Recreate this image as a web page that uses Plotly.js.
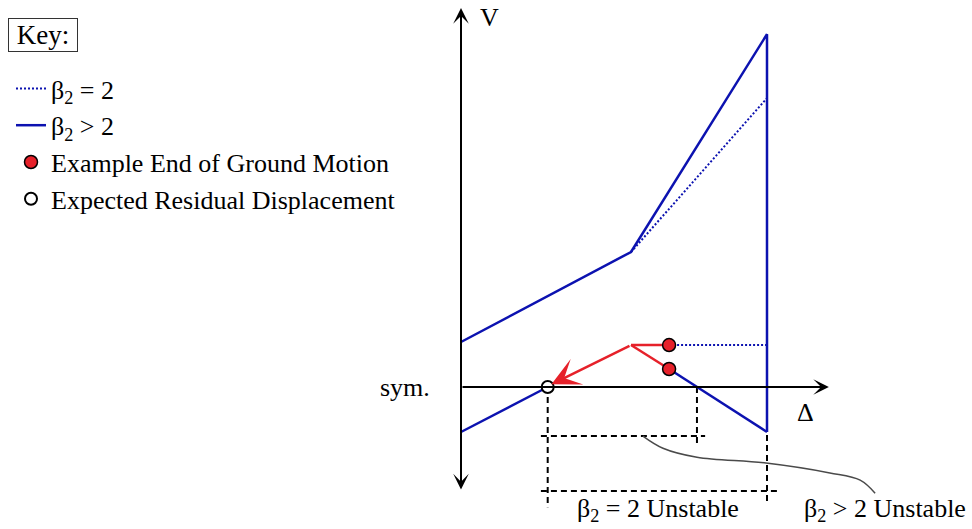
<!DOCTYPE html>
<html>
<head>
<meta charset="utf-8">
<script src="https://cdn.plot.ly/plotly-3.0.1.min.js"></script>
<style>html,body{margin:0;padding:0;background:#fff;}</style>
</head>
<body>
<div id="chart" style="width:972px;height:529px;"></div>
<script>
// Hysteresis schematic in (Δ, V) units, origin at the axis intersection.

// β2 > 2 backbone: initial branch, hardening branch, drop at Δmax
const backboneDelta = [0, 5, 9, 9];
const backboneV = [1, 3, 7.84, -1];
// β2 > 2 unloading branches
const leftBranchDelta = [0, 2.55];
const leftBranchV = [-1, 0];
const rightBranchDelta = [6.12, 9];
const rightBranchV = [0.4, -1];

// β2 = 2 hardening branch and plateau after end of motion
const equalBranchDelta = [5, 9];
const equalBranchV = [3, 6.42];
const plateauDelta = [6.12, 9];
const plateauV = [0.933, 0.933];

// Path from reversal peak to end of ground motion
const peakDelta = 5;
const peakV = 0.933;
const endDelta = [6.12, 6.12];
const endV = [0.933, 0.4];

// Expected residual displacement
const residualDelta = [2.55];
const residualV = [0];
const arrowTipDelta = 2.66;
const arrowTipV = 0.06;

// Unstable-range guides
const guideVertDelta = [2.55, 6.94, 9];
const guideVertTop = [0, 0, 0.933];
const guideVertBottom = [-2.67, -1.31, -2.62];
const guideHorzV = [-1.09, -2.31];
const guideHorzFrom = [2.35, 2.35];
const guideHorzTo = [7.18, 9.35];

// Leader from the β2 > 2 range to its label
const leaderDelta = [5.35, 5.94, 6.94, 8.97, 10.85, 11.74, 12.18];
const leaderV = [-1.09, -1.36, -1.56, -1.69, -1.91, -2.07, -2.36];

// Axes extent
const axisTopV = 8.42;
const axisBottomV = -2.31;
const axisRightDelta = 10.82;

const legendNames = ['β<sub>2</sub> = 2', 'β<sub>2</sub> > 2',
  'Example End of Ground Motion', 'Expected Residual Displacement'];

const BLUE = '#0c12b0';
const RED = '#e6212a';
const FONT = '"Liberation Serif", "Times New Roman", serif';

function joinSegments(list) {
  const out = [];
  list.forEach((seg, i) => { if (i) out.push(null); out.push(...seg); });
  return out;
}

const guideX = [], guideY = [];
guideVertDelta.forEach((d, i) => {
  if (guideX.length) { guideX.push(null); guideY.push(null); }
  guideX.push(d, d); guideY.push(guideVertTop[i], guideVertBottom[i]);
});
guideHorzV.forEach((v, i) => {
  guideX.push(null, guideHorzFrom[i], guideHorzTo[i]);
  guideY.push(null, v, v);
});

const traces = [
  { x: guideX, y: guideY, mode: 'lines', showlegend: false,
    line: { color: '#000', width: 2, dash: '6px,4px' }, hoverinfo: 'skip' },
  { x: leaderDelta, y: leaderV, mode: 'lines', showlegend: false,
    line: { color: '#4a4a4a', width: 1.5, shape: 'spline', smoothing: 1 } },
  { x: joinSegments([equalBranchDelta, plateauDelta]),
    y: joinSegments([equalBranchV, plateauV]),
    mode: 'lines', name: legendNames[0], legendgroup: 'a',
    line: { color: BLUE, width: 2, dash: '2px,2px' } },
  { x: joinSegments([backboneDelta, leftBranchDelta, rightBranchDelta]),
    y: joinSegments([backboneV, leftBranchV, rightBranchV]),
    mode: 'lines', name: legendNames[1], legendgroup: 'b',
    line: { color: BLUE, width: 2.5 } },
  { x: [peakDelta, endDelta[0], null, peakDelta, endDelta[1]],
    y: [peakV, endV[0], null, peakV, endV[1]],
    mode: 'lines', showlegend: false, line: { color: RED, width: 2.5 } },
  { x: endDelta, y: endV, mode: 'markers', name: legendNames[2], legendgroup: 'c',
    marker: { color: RED, size: 13, line: { color: '#000', width: 1.5 } } },
  { x: residualDelta, y: residualV, mode: 'markers', name: legendNames[3], legendgroup: 'd',
    marker: { color: '#fff', size: 12, line: { color: '#000', width: 2 } } }
];

const txt = (x, y, text, xanchor, extra) => Object.assign({
  x, y, text, xref: 'x', yref: 'y', showarrow: false, xanchor: xanchor || 'center',
  yanchor: 'middle', font: { family: FONT, size: 26, color: '#000' }
}, extra || {});

const annotations = [
  // vertical axis (double-headed)
  { x: 0, y: axisTopV, ax: 0, ay: axisBottomV, xref: 'x', yref: 'y', axref: 'x', ayref: 'y',
    text: '', showarrow: true, arrowside: 'end+start', arrowhead: 3, startarrowhead: 3,
    arrowsize: 1.3, startarrowsize: 1.3, arrowwidth: 2, arrowcolor: '#000', standoff: 0, startstandoff: 0 },
  // horizontal axis
  { x: axisRightDelta, y: 0, ax: 0, ay: 0, xref: 'x', yref: 'y', axref: 'x', ayref: 'y',
    text: '', showarrow: true, arrowhead: 3, arrowsize: 1.3, arrowwidth: 2, arrowcolor: '#000', standoff: 0 },
  // return toward residual displacement
  { x: arrowTipDelta, y: arrowTipV, ax: peakDelta, ay: peakV, xref: 'x', yref: 'y', axref: 'x', ayref: 'y',
    text: '', showarrow: true, arrowhead: 3, arrowsize: 1.9, arrowwidth: 2.5, arrowcolor: RED, standoff: 0 },
  txt(0.5, 8.22, 'V', 'left'),
  txt(10.12, -0.56, 'Δ'),
  txt(-0.85, -0.02, 'sym.', 'right'),
  txt(5.79, -2.73, 'β<sub>2</sub> = 2 Unstable'),
  txt(12.47, -2.73, 'β<sub>2</sub> > 2 Unstable'),
  { x: 43 / 972, y: 1 - 35.5 / 529, xref: 'paper', yref: 'paper', text: '&nbsp;Key:&nbsp;', showarrow: false,
    xanchor: 'center', yanchor: 'middle', bordercolor: '#333', borderwidth: 1, borderpad: 1,
    font: { family: FONT, size: 27, color: '#000' } }
];

const hidden = { visible: false, showgrid: false, zeroline: false, fixedrange: true };

const layout = {
  width: 972, height: 529,
  margin: { l: 0, r: 0, t: 0, b: 0 },
  paper_bgcolor: '#fff', plot_bgcolor: '#fff',
  xaxis: Object.assign({ range: [-461 / 34, 511 / 34] }, hidden),
  yaxis: Object.assign({ range: [-142 / 45, 387 / 45] }, hidden),
  showlegend: true,
  legend: {
    x: 11 / 972, y: 1 - 65 / 529, xanchor: 'left', yanchor: 'top',
    font: { family: FONT, size: 26, color: '#000' },
    bgcolor: 'rgba(0,0,0,0)', borderwidth: 0,
    traceorder: 'grouped', tracegroupgap: 0
  },
  annotations
};

Plotly.newPlot('chart', traces, layout, { staticPlot: true, displayModeBar: false });
</script>
</body>
</html>
